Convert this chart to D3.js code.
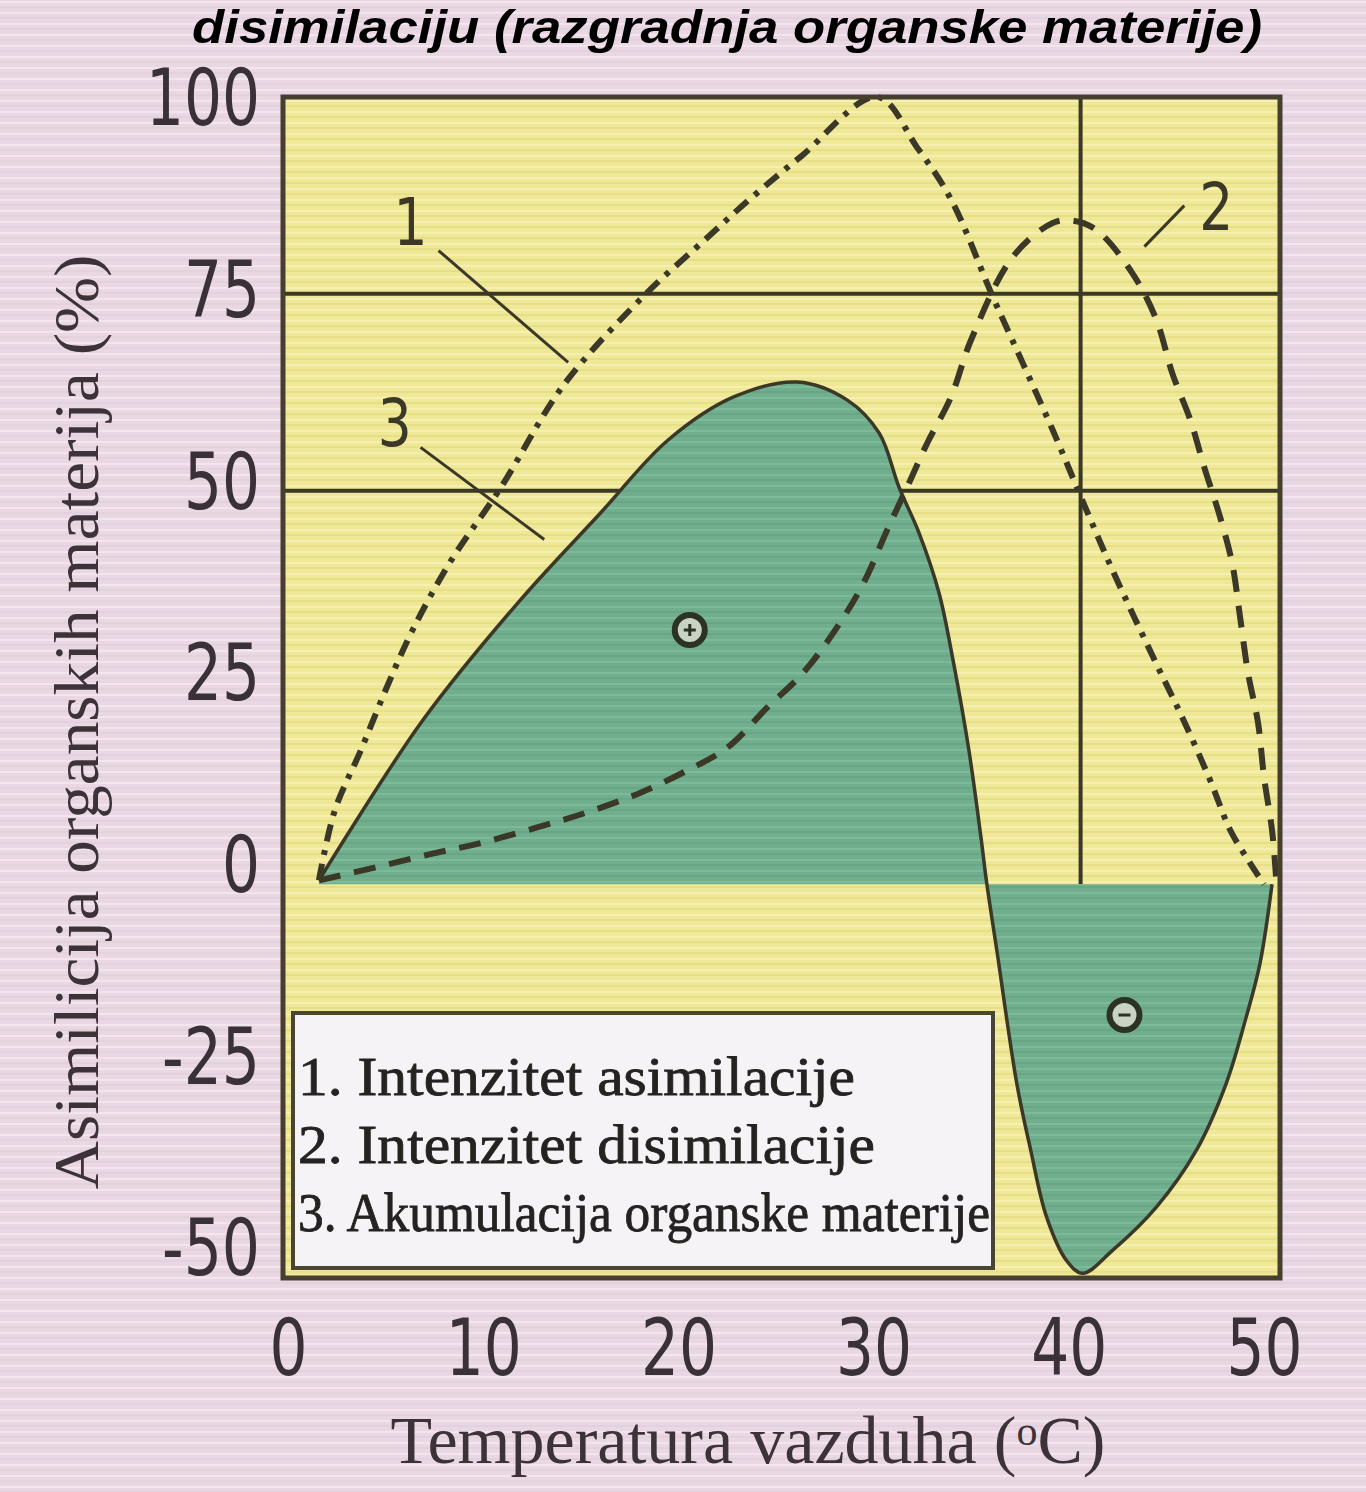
<!DOCTYPE html>
<html>
<head>
<meta charset="utf-8">
<script src="https://cdn.jsdelivr.net/npm/d3@7"></script>
<style>
  html, body { margin: 0; padding: 0; background: #eadae6; }
  svg { display: block; }
</style>
</head>
<body>
<div id="chart"></div>
<script>
/*
    Asimilacija / disimilacija organske materije u zavisnosti od temperature
 */

// x: temperatura (oC), y: intenzitet (%)
var x_ticks = [0, 10, 20, 30, 40, 50];
var y_ticks = [100, 75, 50, 25, 0, -25, -50];
var grid_y = [75, 50];
var grid_x = [40];

// 1. intenzitet asimilacije
var assim_t = [1.8, 2.6, 3.9, 5.2, 6.5, 8.4, 10.9, 14.1, 18.2, 21, 23.4, 26, 29.8, 31.8, 33.5, 35.6, 37.1, 38.6, 40.3, 41.6, 43.8, 45.1, 46.5, 47.5, 48.5, 49.2];
var assim_v = [0.5, 9.4, 17, 25, 32.3, 41, 50.3, 63.5, 75, 81.5, 87, 92.5, 100, 93.6, 87, 74.6, 66.2, 57.7, 47.5, 39.9, 28, 21.2, 13.2, 6.9, 2.7, 0];

// 2. intenzitet disimilacije
var diss_t = [1.8, 4.7, 7.5, 10, 12.7, 15.2, 17.9, 20.3, 22.3, 24.3, 26.1, 27.8, 29.1, 30.3, 31.4, 32.3, 33.5, 34.5, 36.6, 38.6, 39.6, 40.8, 42.6, 43.8, 44.6, 45.5, 46.2, 47, 47.6, 48, 48.4, 48.9, 49.2, 49.6, 49.8];
var diss_v = [0.5, 2.2, 3.9, 5.3, 7.2, 9.1, 11.6, 14.5, 17.4, 22.5, 26.9, 32.7, 38.2, 45, 51, 56, 61.9, 69.1, 79.7, 84, 84.3, 83.1, 77.6, 71.7, 64.9, 59, 53, 46.6, 40.8, 33.9, 26.8, 20.5, 13.6, 6.9, 1];

// 3. akumulacija organske materije
var acc_t = [1.8, 7, 11.9, 15.9, 19.3, 22.6, 25.8, 28.3, 29.9, 30.9, 31.9, 32.9, 33.6, 34.4, 35, 35.3, 35.8, 36.8, 37.5, 38.3, 39.3, 40.1, 41.6, 43.8, 45.8, 47.3, 48.3, 49, 49.6];
var acc_v = [0.5, 20.8, 36.1, 47.1, 56.4, 61.9, 63.8, 61.5, 57.3, 50.4, 44.6, 37, 28.5, 17, 6, 0, -8.4, -25.3, -33.8, -42.3, -47.8, -49.4, -46.5, -41, -33.8, -25.3, -16.9, -10, 0];

var legend_items = ["1. Intenzitet asimilacije", "2. Intenzitet disimilacije", "3. Akumulacija organske materije"];

// oznake krivih: broj, polozaj broja, pocetak i kraj linije (u jedinicama grafika)
var curve_labels = ["1", "3", "2"];
var curve_label_pos = [[6.4, 84], [5.6, 58.5], [46.8, 86]];
var curve_leader_from = [[7.8, 80.5], [6.9, 55.5], [45.2, 86.2]];
var curve_leader_to = [[14.3, 66.3], [13.1, 43.8], [43.2, 81]];

var signs = ["+", "-"];
var sign_pos = [[20.4, 32.3], [42.2, -16.6]];

var svg_size = {
    'width': 1366,
    'height': 1492
};

var plot = {
    'left': 283,
    'right': 1280,
    'top': 97,
    'bottom': 1278
};

var ink = '#3b3827';
var digit_font = '"Liberation Sans Narrow", "DejaVu Sans Condensed", "DejaVu Sans", sans-serif';

var svg = d3.select("#chart")
    .append("svg")
    .attr('width', svg_size.width)
    .attr('height', svg_size.height);

// scanned paper streaks
var defs = svg.append('defs');
function streaks(id, base, light, dark){
    var p = defs.append('pattern')
        .attr('id', id)
        .attr('patternUnits', 'userSpaceOnUse')
        .attr('width', 200)
        .attr('height', 11);
    p.append('rect').attr('width', 200).attr('height', 11).attr('fill', base);
    p.append('rect').attr('y', 1).attr('width', 200).attr('height', 2).attr('fill', light);
    p.append('rect').attr('y', 6).attr('width', 200).attr('height', 2).attr('fill', dark);
}
streaks('bg-pink', '#e9d8e4', '#f2e5ee', '#e3d1dd');
streaks('bg-yellow', '#efe896', '#f5f0b1', '#e7de8a');
streaks('bg-green', '#70ae8e', '#7cba99', '#69a687');

svg.append('rect')
    .attr('width', svg_size.width)
    .attr('height', svg_size.height)
    .attr('fill', 'url(#bg-pink)');

var x_scale = d3.scaleLinear()
    .domain([0, 50])
    .range([plot.left, plot.right]);

var y_scale = d3.scaleLinear()
    .domain([-50, 100])
    .range([plot.bottom, plot.top]);

// the printed tick numbers sit a little off their lines
var y_label_scale = d3.scaleLinear()
    .domain([-50, 100])
    .range([1250, 100]);

var x_label_scale = d3.scaleLinear()
    .domain([0, 50])
    .range([288, 1264]);

// plot background
svg.append('rect')
    .attr('x', x_scale(0))
    .attr('y', y_scale(100))
    .attr('width', x_scale(50) - x_scale(0))
    .attr('height', y_scale(-50) - y_scale(100))
    .attr('fill', 'url(#bg-yellow)');

// grid
svg.selectAll('.grid-y')
    .data(grid_y)
    .enter()
    .append('line')
    .classed('grid-y', true)
    .attr('x1', x_scale(0))
    .attr('x2', x_scale(50))
    .attr('y1', function(d){ return y_scale(d); })
    .attr('y2', function(d){ return y_scale(d); })
    .style('stroke', ink)
    .style('stroke-width', 4);

svg.selectAll('.grid-x')
    .data(grid_x)
    .enter()
    .append('line')
    .classed('grid-x', true)
    .attr('x1', function(d){ return x_scale(d); })
    .attr('x2', function(d){ return x_scale(d); })
    .attr('y1', y_scale(100))
    .attr('y2', y_scale(0))
    .style('stroke', ink)
    .style('stroke-width', 4);

function pairs(t, v){
    return t.map(function(d, i){ return [d, v[i]]; });
}

var acc_data = pairs(acc_t, acc_v);
var smooth = d3.curveCatmullRom.alpha(0.5);

// green area between curve 3 and zero
var area = d3.area()
    .x(function(d){ return x_scale(d[0]); })
    .y0(y_scale(0))
    .y1(function(d){ return y_scale(d[1]); })
    .curve(smooth);

svg.append('path')
    .datum(acc_data)
    .attr('d', area)
    .attr('fill', 'url(#bg-green)');

var line = d3.line()
    .x(function(d){ return x_scale(d[0]); })
    .y(function(d){ return y_scale(d[1]); })
    .curve(smooth);

svg.append('path')
    .datum(acc_data)
    .attr('d', line)
    .attr('fill', 'none')
    .style('stroke', ink)
    .style('stroke-width', 3.5);

svg.append('path')
    .datum(pairs(assim_t, assim_v))
    .attr('d', line)
    .attr('fill', 'none')
    .style('stroke', ink)
    .style('stroke-width', 6)
    .style('stroke-dasharray', '17,9,5,9');

svg.append('path')
    .datum(pairs(diss_t, diss_v))
    .attr('d', line)
    .attr('fill', 'none')
    .style('stroke', ink)
    .style('stroke-width', 6)
    .style('stroke-dasharray', '22,14');

// curve numbers with leader lines
svg.selectAll('.leader')
    .data(curve_labels)
    .enter()
    .append('line')
    .classed('leader', true)
    .attr('x1', function(d, i){ return x_scale(curve_leader_from[i][0]); })
    .attr('y1', function(d, i){ return y_scale(curve_leader_from[i][1]); })
    .attr('x2', function(d, i){ return x_scale(curve_leader_to[i][0]); })
    .attr('y2', function(d, i){ return y_scale(curve_leader_to[i][1]); })
    .style('stroke', ink)
    .style('stroke-width', 3);

svg.selectAll('.curve-label')
    .data(curve_labels)
    .enter()
    .append('text')
    .classed('curve-label', true)
    .attr('x', function(d, i){ return x_scale(curve_label_pos[i][0]); })
    .attr('y', function(d, i){ return y_scale(curve_label_pos[i][1]); })
    .attr('text-anchor', 'middle')
    .attr('dominant-baseline', 'central')
    .attr('textLength', 34)
    .attr('lengthAdjust', 'spacingAndGlyphs')
    .style('font-family', digit_font)
    .style('font-size', '66px')
    .style('fill', ink)
    .text(function(d){ return d; });

// plus / minus marks
var sign_g = svg.selectAll('.sign')
    .data(signs)
    .enter()
    .append('g')
    .classed('sign', true)
    .attr('transform', function(d, i){
        return 'translate(' + x_scale(sign_pos[i][0]) + ',' + y_scale(sign_pos[i][1]) + ')';
    });

sign_g.append('circle')
    .attr('r', 15)
    .attr('fill', '#c9d3c3')
    .style('stroke', '#2c3326')
    .style('stroke-width', 6);

sign_g.append('line')
    .attr('x1', -6).attr('x2', 6)
    .attr('y1', 0).attr('y2', 0)
    .style('stroke', '#2c3326')
    .style('stroke-width', 3);

sign_g.filter(function(d){ return d == '+'; })
    .append('line')
    .attr('x1', 0).attr('x2', 0)
    .attr('y1', -6).attr('y2', 6)
    .style('stroke', '#2c3326')
    .style('stroke-width', 3);

// frame
svg.append('rect')
    .attr('x', x_scale(0))
    .attr('y', y_scale(100))
    .attr('width', x_scale(50) - x_scale(0))
    .attr('height', y_scale(-50) - y_scale(100))
    .attr('fill', 'none')
    .style('stroke', '#463f30')
    .style('stroke-width', 5);

// legend box
var legend = svg.append('g')
    .attr('transform', 'translate(293,1013)');

legend.append('rect')
    .attr('width', 700)
    .attr('height', 255)
    .attr('fill', '#f5f3f6')
    .style('stroke', '#4a4434')
    .style('stroke-width', 4);

var legend_len = [557, 577, 692];
legend.selectAll('.legend-item')
    .data(legend_items)
    .enter()
    .append('text')
    .classed('legend-item', true)
    .attr('x', 5)
    .attr('y', function(d, i){ return 82 + 68 * i; })
    .attr('textLength', function(d, i){ return legend_len[i]; })
    .attr('lengthAdjust', 'spacingAndGlyphs')
    .style('font-family', '"Liberation Serif", "DejaVu Serif", serif')
    .style('font-size', '54px')
    .style('fill', '#262222')
    .style('stroke', '#262222')
    .style('stroke-width', 0.8);

legend.selectAll('.legend-item')
    .text(function(d){ return d; });

// axes
function tick_len(d){
    var s = String(d);
    return s.replace('-', '').length * 38 + (s.indexOf('-') >= 0 ? 22 : 0);
}

var y_axis = d3.axisLeft(y_label_scale)
    .tickValues(y_ticks)
    .tickFormat(function(d){ return String(d); })
    .tickSize(0)
    .tickPadding(0);

var y_axis_group = svg.append('g')
    .attr('transform', 'translate(260,0)')
    .call(y_axis);

var x_axis = d3.axisBottom(x_label_scale)
    .tickValues(x_ticks)
    .tickFormat(function(d){ return String(d); })
    .tickSize(0)
    .tickPadding(0);

var x_axis_group = svg.append('g')
    .attr('transform', 'translate(0,1320)')
    .call(x_axis);

[y_axis_group, x_axis_group].forEach(function(g){
    g.select('.domain').remove();
    g.selectAll('text')
        .attr('textLength', function(d){ return tick_len(d); })
        .attr('lengthAdjust', 'spacingAndGlyphs')
        .style('font-family', digit_font)
        .style('font-size', '78px')
        .style('fill', '#3a3038');
});

// axis titles
svg.append('text')
    .attr('transform', 'translate(98,722) rotate(-90)')
    .attr('text-anchor', 'middle')
    .attr('textLength', 935)
    .attr('lengthAdjust', 'spacingAndGlyphs')
    .style('font-family', '"Liberation Serif", "DejaVu Serif", serif')
    .style('font-size', '64px')
    .style('fill', '#3c3238')
    .text('Asimilicija organskih materija (%)');

var x_title = svg.append('text')
    .attr('x', 748)
    .attr('y', 1463)
    .attr('text-anchor', 'middle')
    .style('font-family', '"Liberation Serif", "DejaVu Serif", serif')
    .style('font-size', '68px')
    .style('fill', '#3c3238');

x_title.append('tspan').text('Temperatura vazduha (');
x_title.append('tspan').attr('dy', -18).style('font-size', '42px').text('o');
x_title.append('tspan').attr('dy', 18).text('C)');

// title (continues from a page above)
svg.append('text')
    .attr('x', 727)
    .attr('y', 43)
    .attr('text-anchor', 'middle')
    .attr('textLength', 1070)
    .attr('lengthAdjust', 'spacingAndGlyphs')
    .style('font-family', '"Liberation Sans", Arial, sans-serif')
    .style('font-weight', 'bold')
    .style('font-style', 'italic')
    .style('font-size', '46px')
    .style('fill', '#000')
    .text('disimilaciju (razgradnja organske materije)');
</script>
</body>
</html>
